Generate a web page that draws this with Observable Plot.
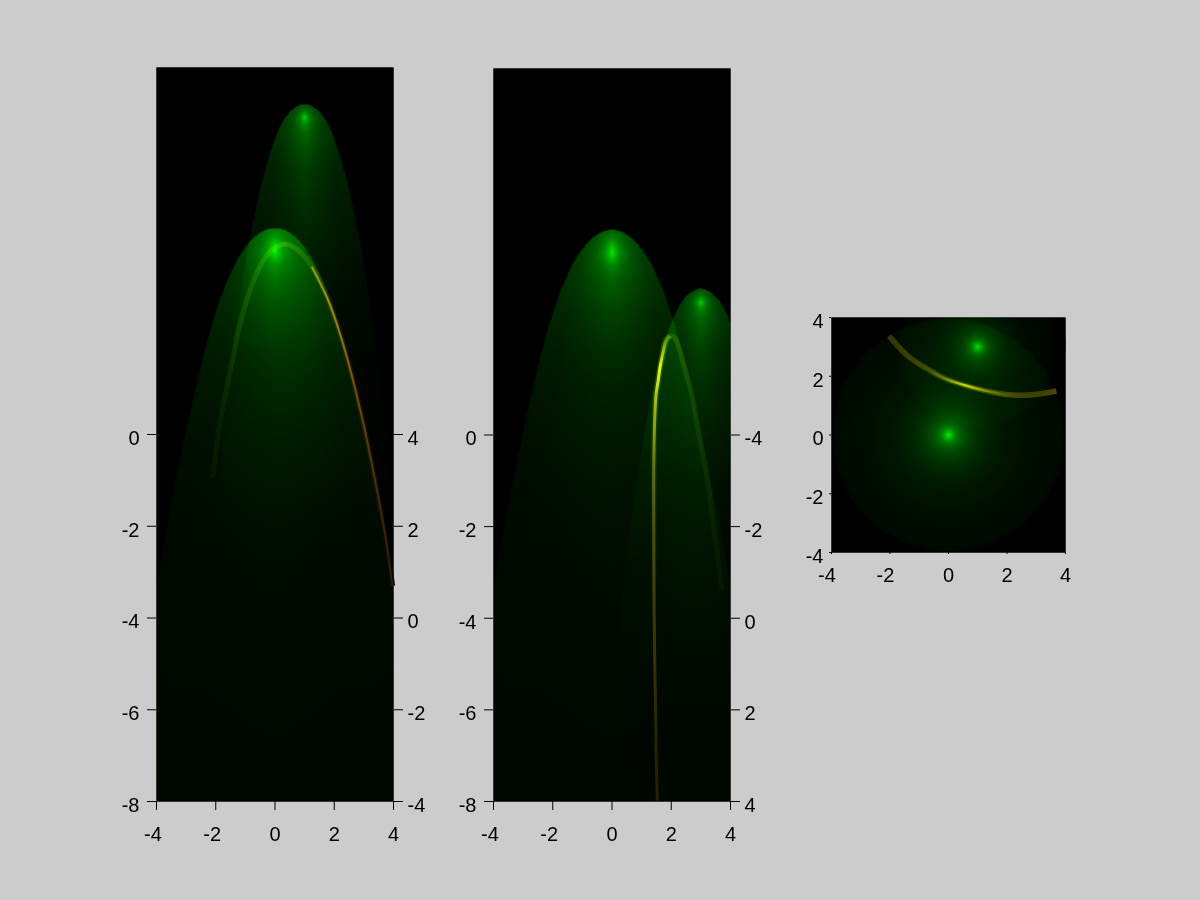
<!DOCTYPE html>
<html><head><meta charset="utf-8">
<script src="https://cdn.jsdelivr.net/npm/d3@7"></script>
<script src="https://cdn.jsdelivr.net/npm/@observablehq/plot@0.6"></script>
<style>
html,body{margin:0;padding:0;background:#cccccc;width:1200px;height:900px;overflow:hidden}
#root{position:relative;width:1200px;height:900px}
#root svg{position:absolute;background:none;isolation:isolate;overflow:visible}
</style></head><body><div id="root"></div>
<script>
// Fractions of a lobe's half width at which the green level was read
const lobeFractions = [0, 0.1, 0.25, 0.5, 0.75, 1];
// Outline of each lobe: [distance below apex, half width]
const bigLobeEdge = [[0,0],[0.13,0.56],[0.35,0.91],[0.63,1.22],[1.0,1.51],[1.37,1.75],[1.72,1.94],[2.09,2.12],[2.46,2.28],[2.75,2.40],[3.36,2.63],[4.1,2.89],[4.82,3.13],[5.54,3.35],[6.28,3.57],[7.0,3.78],[7.72,3.98],[12.45,5.05]];
const smallLobeEdge = [[0,0],[0.06,0.29],[0.28,0.64],[0.63,0.93],[1.0,1.13],[1.37,1.30],[1.72,1.45],[2.09,1.58],[2.46,1.70],[2.73,1.79],[3.4,1.98],[4.14,2.16],[5.58,2.46],[7.85,2.85],[9.16,3.05]];
// Green levels across each lobe: [distance below apex, levels at lobeFractions]
const bigLobeRows = [
  [0,[90,90,90,90,90,90]],
  [0.065,[105,104,100,94,88,82]],
  [0.175,[125,122,114,100,84,74]],
  [0.305,[170,155,128,96,78,68]],
  [0.415,[210,178,132,96,75,64]],
  [0.50,[235,182,132,92,72,60]],
  [0.61,[190,165,122,88,68,57]],
  [0.785,[130,122,102,80,62,53]],
  [1.09,[98,94,84,68,54,47]],
  [1.745,[66,64,60,50,40,37]],
  [2.70,[44,43,40,35,28,26]],
  [3.45,[33,32,31,27,22,20]],
  [4.47,[25,24,23,20,16,15]],
  [5.47,[18,18,17,15,13,12]],
  [6.5,[15,15,14,12,11,10]],
  [7.81,[11,11,10,9,9,8]],
  [12.45,[6,6,6,6,6,6]]
];
const smallLobeRows = [
  [0,[80,80,80,80,80,80]],
  [0.06,[88,87,85,80,76,72]],
  [0.15,[120,114,102,86,76,68]],
  [0.22,[165,145,115,88,72,64]],
  [0.29,[220,175,122,88,68,60]],
  [0.37,[165,150,112,82,64,56]],
  [0.45,[135,125,102,76,60,52]],
  [0.63,[100,97,86,68,54,48]],
  [1.0,[78,76,68,54,44,40]],
  [1.37,[62,60,54,44,37,34]],
  [2.09,[46,45,41,34,28,25]],
  [2.73,[38,36,33,27,22,20]],
  [3.4,[28,27,25,20,16,14]],
  [4.14,[20,19,17,14,11,9]],
  [5.58,[10,10,9,7,5,4]],
  [7.85,[4,4,4,3,3,2]],
  [9.16,[0,0,0,0,0,0]]
];
// Radial discs of the third panel: [radius, green level]
const discBigProfile = [[0,235],[0.05,215],[0.1,190],[0.17,155],[0.25,125],[0.4,95],[0.6,72],[1,46],[1.5,30],[2,21],[3,13],[3.95,9]];
const discSmallProfile = [[0,215],[0.05,190],[0.1,160],[0.17,125],[0.25,95],[0.4,65],[0.6,45],[1,24],[1.5,14],[2,9],[2.7,4]];

const tickValues = [-4,-2,0,2,4];
const negTicks = [-4,-2];
const posTicks = [0,2,4];
const panelYTicks = [0,-2,-4,-6,-8];
const rightLabelsA = [4,2,0,-2,-4];
const rightLabelsB = [-4,-2,0,2,4];

// Yellow curves: x, y, colour
const curve1X = [-2.11,-1.84,-1.43,-1.23,-0.93,-0.59,-0.22,0.29,0.76,1.30,1.78,2.15,2.45,2.96,3.23,3.50,3.74,3.97];
const curve1Y = [-0.95,0.31,1.65,2.28,2.98,3.55,3.95,4.15,4.03,3.60,2.95,2.29,1.64,0.31,-0.51,-1.40,-2.26,-3.30];
const curve1C = ["#060a00","#060e00","#0a1600","#0e1c00","#102200","#142800","#183000","#243c00","#182800","#142000","#101c00","#101800","#0e1400","#0e1000","#0a0e00","#080a00","#060800","#040600"];
const thin1X = [1.24,1.78,2.15,2.45,2.96,3.23,3.50,3.74,3.97];
const thin1Y = [3.66,2.95,2.29,1.64,0.31,-0.51,-1.40,-2.26,-3.30];
const thin1C = ["#a85000","#b05000","#a84800","#983c00","#682c00","#582400","#481c00","#3a1800","#2a1000"];

const curve2LeftX = [1.53,1.49,1.47,1.44,1.42,1.41,1.41,1.44,1.49,1.55,1.63,1.72,1.82,1.95];
const curve2LeftY = [-7.98,-6.95,-5.86,-4.92,-3.68,-1.93,-0.78,0.31,0.90,1.15,1.51,1.80,2.06,2.17];
const curve2LeftC = ["#241c00","#241c00","#2c2400","#342c00","#3c3400","#4c4000","#605000","#908800","#b0a800","#d8d000","#f0f000","#a0a000","#505800","#303800"];
const curve2LeftBand = ["#000000","#000000","#000000","#000000","#000000","#040800","#081000","#0c1c00","#102400","#142c00","#183000","#1c3800","#1c3800","#1c3000"];
const curve2RightX = [1.95,2.08,2.22,2.37,2.54,2.71,2.89,3.23,3.43,3.72];
const curve2RightY = [2.17,2.14,1.98,1.66,1.27,0.85,0.16,-1.0,-2.02,-3.4];
const curve2RightC = ["#202400","#202400","#1c2400","#182000","#141c00","#101800","#0c1000","#0a0e00","#080a00","#060800"];

const curve3X = [-2.03,-1.39,-0.71,-0.14,0.53,1.21,1.90,2.46,3.03,3.69];
const curve3Y = [3.37,2.69,2.24,1.93,1.70,1.52,1.39,1.35,1.39,1.50];
const curve3Core = ["#000000","#000000","#101000","#504800","#c0c000","#706800","#181400","#000000","#000000","#000000"];
const curve3Band = ["#383000","#383000","#303000","#283400","#283800","#343400","#403800","#403400","#403400","#4c4000"];

const strayY = [3.29,2.78];

function lerpTable(keys, values, k) {
  const i = d3.bisectRight(keys, k);
  if (i <= 0) return values[0];
  if (i >= keys.length) return values[keys.length-1];
  const t = (k-keys[i-1])/(keys[i]-keys[i-1]);
  return values[i-1]+(values[i]-values[i-1])*t;
}
function lobeLevel(edge, rows, cx, top, x, y) {
  const dy = top-y;
  if (dy < 0 || dy > rows[rows.length-1][0]) return 0;
  const hw = lerpTable(edge.map(r=>Math.sqrt(r[0])), edge.map(r=>r[1]), Math.sqrt(dy));
  const f = Math.abs(x-cx)/hw;
  if (!(f <= 1)) return 0;
  return lerpTable(rows.map(r=>r[0]), rows.map(r=>lerpTable(lobeFractions,r[1],f)), dy);
}
function discLevel(profile, cx, cy, x, y) {
  const r = Math.hypot(x-cx,y-cy);
  if (r > profile[profile.length-1][0]) return 0;
  return lerpTable(profile.map(p=>p[0]), profile.map(p=>p[1]), r);
}
function table(X,Y,C){return X.map((x,i)=>({x,y:Y[i],c:C[i]}));}

const font = "Liberation Sans, Arial, sans-serif";
const green = {type:"linear",domain:[0,255],range:["#000000","#00ff00"],clamp:true};
let gradId = 0;
// A smooth line whose colour follows the values read along it.
function gradLine(rows, axis, w) {
  const id = "grad"+(++gradId);
  const a = rows[0][axis], b = rows[rows.length-1][axis];
  return [
    (index, scales) => {
      const s = scales[axis], g = d3.create("svg:g");
      const grad = g.append("defs").append("linearGradient").attr("id",id).attr("gradientUnits","userSpaceOnUse");
      if (axis==="x") grad.attr("x1",s(a)).attr("x2",s(b)).attr("y1",0).attr("y2",0);
      else grad.attr("y1",s(a)).attr("y2",s(b)).attr("x1",0).attr("x2",0);
      for (const r of rows) grad.append("stop").attr("offset",(r[axis]-a)/(b-a)).attr("stop-color",r.c);
      return g.node();
    },
    Plot.line(rows,{x:"x",y:"y",stroke:`url(#${id})`,strokeWidth:w,curve:"catmull-rom",mixBlendMode:"screen",strokeLinecap:"butt"})
  ];
}

function panel({frame, yDomain, yTicks, marks, tickLen, labelRight, labelPadX, negDx}) {
  const [l,t,r,b] = frame;
  const boxL = l-60, boxT = t-20, boxR = r+60, boxB = b+60;
  const fs = 20;
  const axes = [
    Plot.axisX(tickValues,{anchor:"bottom",tickSize:tickLen,text:null,label:null,stroke:"#000",strokeOpacity:1}),
    Plot.axisX(negTicks,{anchor:"bottom",tickSize:0,tickPadding:labelPadX,label:null,tickFormat:d=>String(d),fill:"#000",fontSize:fs,fontFamily:font,dx:negDx}),
    Plot.axisX(posTicks,{anchor:"bottom",tickSize:0,tickPadding:labelPadX,label:null,tickFormat:d=>String(d),fill:"#000",fontSize:fs,fontFamily:font}),
    Plot.axisY(yTicks,{anchor:"left",tickSize:tickLen,text:null,label:null,stroke:"#000",strokeOpacity:1}),
    Plot.axisY(yTicks,{anchor:"left",tickSize:0,tickPadding:labelRight?17:8,label:null,tickFormat:d=>String(d),fill:"#000",fontSize:fs,fontFamily:font,dy:4})
  ];
  if (labelRight) axes.push(
    Plot.axisY(yTicks,{anchor:"right",tickSize:tickLen,text:null,label:null,stroke:"#000",strokeOpacity:1}),
    Plot.axisY(yTicks,{anchor:"right",tickSize:0,tickPadding:14,label:null,tickFormat:d=>String(labelRight[yTicks.indexOf(d)]),fill:"#000",fontSize:fs,fontFamily:font,dy:4,textAnchor:"start"})
  );
  const svg = Plot.plot({
    width:boxR-boxL, height:boxB-boxT,
    marginLeft:l-boxL, marginRight:boxR-r, marginTop:t-boxT, marginBottom:boxB-b,
    x:{domain:[-4,4]}, y:{domain:yDomain}, color:green,
    style:{background:"none",overflow:"visible"},
    marks:[Plot.frame({fill:"#000",stroke:null}), ...marks, ...axes]
  });
  svg.style.left = boxL+"px"; svg.style.top = boxT+"px";
  document.getElementById("root").appendChild(svg);
}
const field = (fn, y1, y2) => Plot.raster({fill:fn,x1:-4,x2:4,y1,y2,pixelSize:1});

panel({frame:[156,67,393,801], yDomain:[-8,8], yTicks:panelYTicks, tickLen:9, labelRight:rightLabelsA, labelPadX:25, negDx:-3.6, marks:[
  field((x,y)=>lobeLevel(smallLobeEdge,smallLobeRows,1,7.2,x,y)+lobeLevel(bigLobeEdge,bigLobeRows,0,4.5,x,y),-8,8),
  ...gradLine(table(curve1X,curve1Y,curve1C),"x",5),
  ...gradLine(table(thin1X,thin1Y,thin1C),"x",2)
]});
panel({frame:[493,68,730,801], yDomain:[-8,8], yTicks:panelYTicks, tickLen:9, labelRight:rightLabelsB, labelPadX:25, negDx:-3.6, marks:[
  field((x,y)=>lobeLevel(bigLobeEdge,bigLobeRows,0,4.48,x,y)+lobeLevel(smallLobeEdge,smallLobeRows,3,3.19,x,y),-8,8),
  ...gradLine(table(curve2RightX,curve2RightY,curve2RightC),"y",5),
  ...gradLine(table(curve2LeftX,curve2LeftY,curve2LeftBand),"y",6),
  ...gradLine(table(curve2LeftX,curve2LeftY,curve2LeftC),"y",3)
]});
panel({frame:[831,317,1065,552], yDomain:[-4,4], yTicks:tickValues, tickLen:2, labelRight:null, labelPadX:15, negDx:-4.5, marks:[
  field((x,y)=>discLevel(discBigProfile,0,0,x,y)+discLevel(discSmallProfile,1,3,x,y),-4,4),
  ...gradLine(table(curve3X,curve3Y,curve3Band),"x",5.5),
  ...gradLine(table(curve3X,curve3Y,curve3Core),"x",2.5),
  Plot.ruleX([4],{y1:strayY[0],y2:strayY[1],stroke:"#222"})
]});
</script></body></html>
